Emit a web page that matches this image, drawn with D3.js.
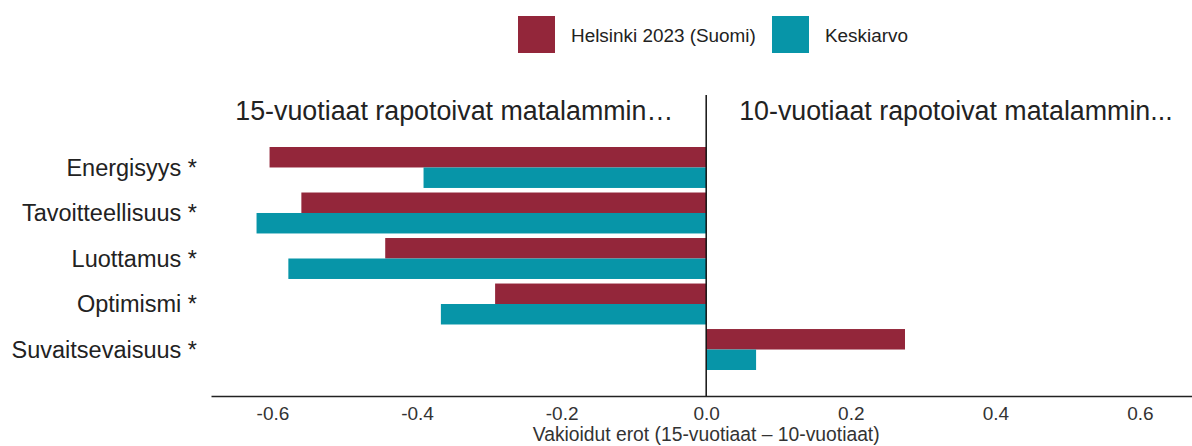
<!DOCTYPE html>
<html>
<head>
<meta charset="utf-8">
<script src="https://d3js.org/d3.v7.min.js"></script>
<style>
    body { margin: 0; background: #fff; }
    svg { font-family: "Liberation Sans", Arial, sans-serif; }
    .cat-label { font-size: 23.5px; fill: #222; }
    .head-text { font-size: 26.8px; fill: #222; }
    .legend-text { font-size: 18.9px; fill: #222; }
    .x-axis text { font-size: 19px; fill: #333; }
    .axis-title { font-size: 19.3px; fill: #333; }
</style>
</head>
<body>
<div id="chart"></div>
<script>
    // data
    var categories = ["Energisyys *", "Tavoitteellisuus *", "Luottamus *", "Optimismi *", "Suvaitsevaisuus *"];
    var seriesNames = ["Helsinki 2023 (Suomi)", "Keskiarvo"];
    var helsinki = [-0.604, -0.560, -0.444, -0.292, 0.275];
    var keskiarvo = [-0.391, -0.622, -0.578, -0.367, 0.069];
    var xTicks = [-0.6, -0.4, -0.2, 0.0, 0.2, 0.4, 0.6];
    var colors = ["#93263a", "#0795a8"];

    var width = 1192, height = 446;

    var svg = d3.select("#chart").append("svg")
        .attr("width", width)
        .attr("height", height);

    /* Scales */
    var x = d3.scaleLinear()
        .domain([-0.685, 0.672])
        .range([211, 1192]);

    var y = d3.scaleBand()
        .domain(categories)
        .range([147, 370])
        .paddingInner(0.1)
        .paddingOuter(0);

    var ySub = d3.scaleBand()
        .domain(seriesNames)
        .range([0, y.bandwidth()]);

    var rows = categories.map(function(c, i) {
        return { cat: c, values: [helsinki[i], keskiarvo[i]] };
    });

    /* Bars */
    var groups = svg.append("g").selectAll("g")
        .data(rows).enter()
        .append("g")
        .attr("transform", d => `translate(0, ${y(d.cat)})`);

    groups.selectAll("rect")
        .data(d => d.values.map((v, j) => ({ name: seriesNames[j], value: v, j: j })))
        .enter().append("rect")
        .attr("x", d => x(Math.min(0, d.value)))
        .attr("width", d => Math.abs(x(d.value) - x(0)))
        .attr("y", d => ySub(d.name))
        .attr("height", ySub.bandwidth())
        .attr("fill", d => colors[d.j]);

    /* Category labels */
    svg.append("g").selectAll("text")
        .data(categories).enter()
        .append("text")
        .attr("class", "cat-label")
        .attr("x", 197)
        .attr("y", d => y(d) + y.bandwidth() / 2)
        .attr("dy", "0.35em")
        .attr("text-anchor", "end")
        .text(d => d);

    /* Zero line */
    svg.append("line")
        .attr("x1", x(0)).attr("x2", x(0))
        .attr("y1", 95).attr("y2", 396)
        .attr("stroke", "#111")
        .attr("stroke-width", 1.5);

    /* X axis */
    var xAxis = d3.axisBottom(x)
        .tickValues(xTicks)
        .tickFormat(d => d3.format(".1f")(d).replace("\u2212", "-"))
        .tickSize(0)
        .tickPadding(11);

    var gx = svg.append("g")
        .attr("class", "x-axis")
        .attr("transform", "translate(0, 396)")
        .call(xAxis);
    gx.select(".domain").attr("stroke", "#222").attr("stroke-width", 1.5);

    svg.append("text")
        .attr("class", "axis-title")
        .attr("x", x(0))
        .attr("y", 441)
        .attr("text-anchor", "middle")
        .text("Vakioidut erot (15-vuotiaat \u2013 10-vuotiaat)");

    /* Side headers */
    svg.append("text")
        .attr("class", "head-text")
        .attr("x", x(0) - 33)
        .attr("y", 120)
        .attr("text-anchor", "end")
        .text("15-vuotiaat rapotoivat matalammin\u2026");

    svg.append("text")
        .attr("class", "head-text")
        .attr("x", x(0) + 33)
        .attr("y", 120)
        .attr("text-anchor", "start")
        .text("10-vuotiaat rapotoivat matalammin...");

    /* Legend */
    var legendX = [518, 772];
    var legend = svg.append("g").selectAll("g")
        .data(seriesNames).enter()
        .append("g")
        .attr("transform", (d, i) => `translate(${legendX[i]}, 16)`);

    legend.append("rect")
        .attr("width", 37).attr("height", 37)
        .attr("fill", (d, i) => colors[i]);

    legend.append("text")
        .attr("class", "legend-text")
        .attr("x", 53)
        .attr("y", 19)
        .attr("dy", "0.35em")
        .text(d => d);
</script>
</body>
</html>
